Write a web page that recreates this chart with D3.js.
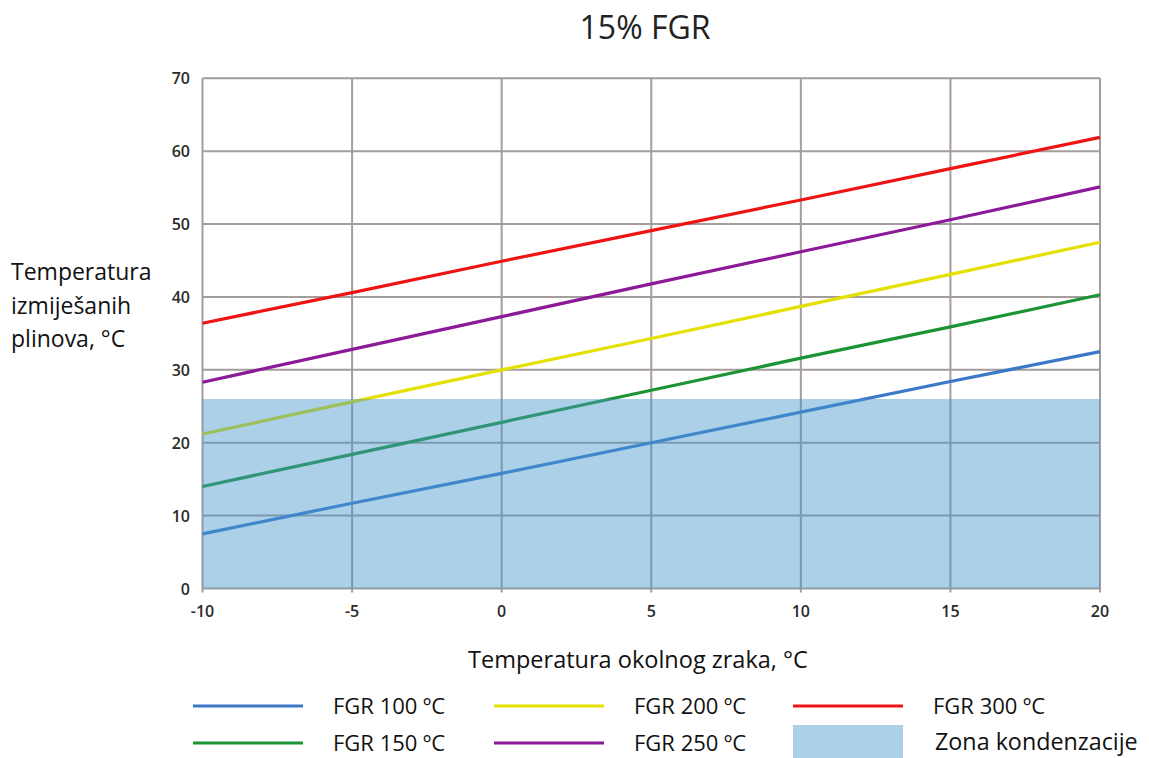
<!DOCTYPE html>
<html><head><meta charset="utf-8">
<script src="https://cdn.jsdelivr.net/npm/d3@7"></script>
<style>body{margin:0;background:#fff}svg{display:block;background:#fff}</style>
</head><body>
<script>
const xValues = [-10, -5, 0, 5, 10, 15, 20];
const seriesNames = ["FGR 100 ºC", "FGR 150 ºC", "FGR 200 ºC", "FGR 250 ºC", "FGR 300 ºC"];
const fgr100 = [7.5, 11.7, 15.8, 20.0, 24.2, 28.4, 32.5];
const fgr150 = [14.0, 18.4, 22.8, 27.2, 31.6, 35.9, 40.3];
const fgr200 = [21.2, 25.6, 30.0, 34.3, 38.7, 43.1, 47.5];
const fgr250 = [28.3, 32.8, 37.3, 41.8, 46.2, 50.6, 55.1];
const fgr300 = [36.4, 40.6, 44.9, 49.1, 53.3, 57.6, 61.9];
const condensationTop = 26;
const xTicks = [-10, -5, 0, 5, 10, 15, 20];
const yTicks = [0, 10, 20, 30, 40, 50, 60, 70];
const colors = ["#3b79c8", "#1c9436", "#e4e000", "#8c1a98", "#ef1414"];

const W = 1149, H = 758;
const svg = d3.select("body").append("svg").attr("width", W).attr("height", H);
const x = d3.scaleLinear().domain([-10, 20]).range([202.5, 1100]);
const y = d3.scaleLinear().domain([0, 70]).range([588.5, 78.3]);
const font = "'Open Sans', sans-serif";
const zoneBase = "#4497cc";
const zoneAlpha = 0.45;

// grid
const grid = svg.append("g");
grid.selectAll("line.v").data(xTicks).join("line")
  .attr("x1", d => x(d)).attr("x2", d => x(d)).attr("y1", y(70)).attr("y2", y(0) + 4)
  .attr("stroke", "#a39d9b").attr("stroke-width", 2);
grid.selectAll("line.h").data(yTicks).join("line")
  .attr("x1", x(-10)).attr("x2", x(20)).attr("y1", d => y(d)).attr("y2", d => y(d))
  .attr("stroke", "#a39d9b").attr("stroke-width", 2);

// lines
const allSeries = [fgr100, fgr150, fgr200, fgr250, fgr300];
const lineGen = d3.line().x((d, i) => x(xValues[i])).y(d => y(d));
svg.append("g").selectAll("path").data(allSeries).join("path")
  .attr("d", d => lineGen(d)).attr("fill", "none")
  .attr("stroke", (d, i) => colors[i]).attr("stroke-width", 3.2);

// condensation zone (translucent over grid and lines)
svg.append("rect").attr("x", x(-10)).attr("y", y(condensationTop))
  .attr("width", x(20) - x(-10)).attr("height", y(0) - y(condensationTop))
  .attr("fill", zoneBase).attr("fill-opacity", zoneAlpha);

// tick labels
svg.append("g").selectAll("text").data(yTicks).join("text")
  .attr("x", 190).attr("y", d => y(d) + 6).attr("text-anchor", "end")
  .attr("font-family", font).attr("font-weight", 600).attr("font-size", 16).attr("fill", "#2a2a2a")
  .text(d => d);
svg.append("g").selectAll("text").data(xTicks).join("text")
  .attr("x", d => x(d)).attr("y", 617).attr("text-anchor", "middle")
  .attr("font-family", font).attr("font-weight", 600).attr("font-size", 16).attr("fill", "#2a2a2a")
  .text(d => d);

// title
svg.append("text").attr("x", 645).attr("y", 39).attr("text-anchor", "middle")
  .attr("font-family", font).attr("font-size", 32).attr("fill", "#222").text("15% FGR");

// axis titles
svg.append("text").attr("x", 638).attr("y", 668).attr("text-anchor", "middle")
  .attr("font-family", font).attr("font-size", 23.5).attr("fill", "#111").text("Temperatura okolnog zraka, °C");
const yl = ["Temperatura", "izmiješanih", "plinova, °C"];
svg.append("g").selectAll("text").data(yl).join("text")
  .attr("x", 11).attr("y", (d, i) => 280 + i * 33.5)
  .attr("font-family", font).attr("font-size", 23).attr("fill", "#111").text(d => d);

// legend
const legendPos = [[193, 706], [193, 743], [494, 706], [494, 743], [793, 706]];
const lg = svg.append("g");
seriesNames.forEach((name, i) => {
  const [lx, ly] = legendPos[i];
  lg.append("line").attr("x1", lx).attr("x2", lx + 110).attr("y1", ly).attr("y2", ly)
    .attr("stroke", colors[i]).attr("stroke-width", 3.2);
  lg.append("text").attr("x", lx + 140).attr("y", ly + 7.5)
    .attr("font-family", font).attr("font-size", 22).attr("fill", "#111").text(name);
});
lg.append("rect").attr("x", 793).attr("y", 725).attr("width", 110).attr("height", 33)
  .attr("fill", zoneBase).attr("fill-opacity", zoneAlpha);
lg.append("text").attr("x", 935).attr("y", 750)
  .attr("font-family", font).attr("font-size", 23.3).attr("fill", "#111").text("Zona kondenzacije");
</script>
</body></html>
